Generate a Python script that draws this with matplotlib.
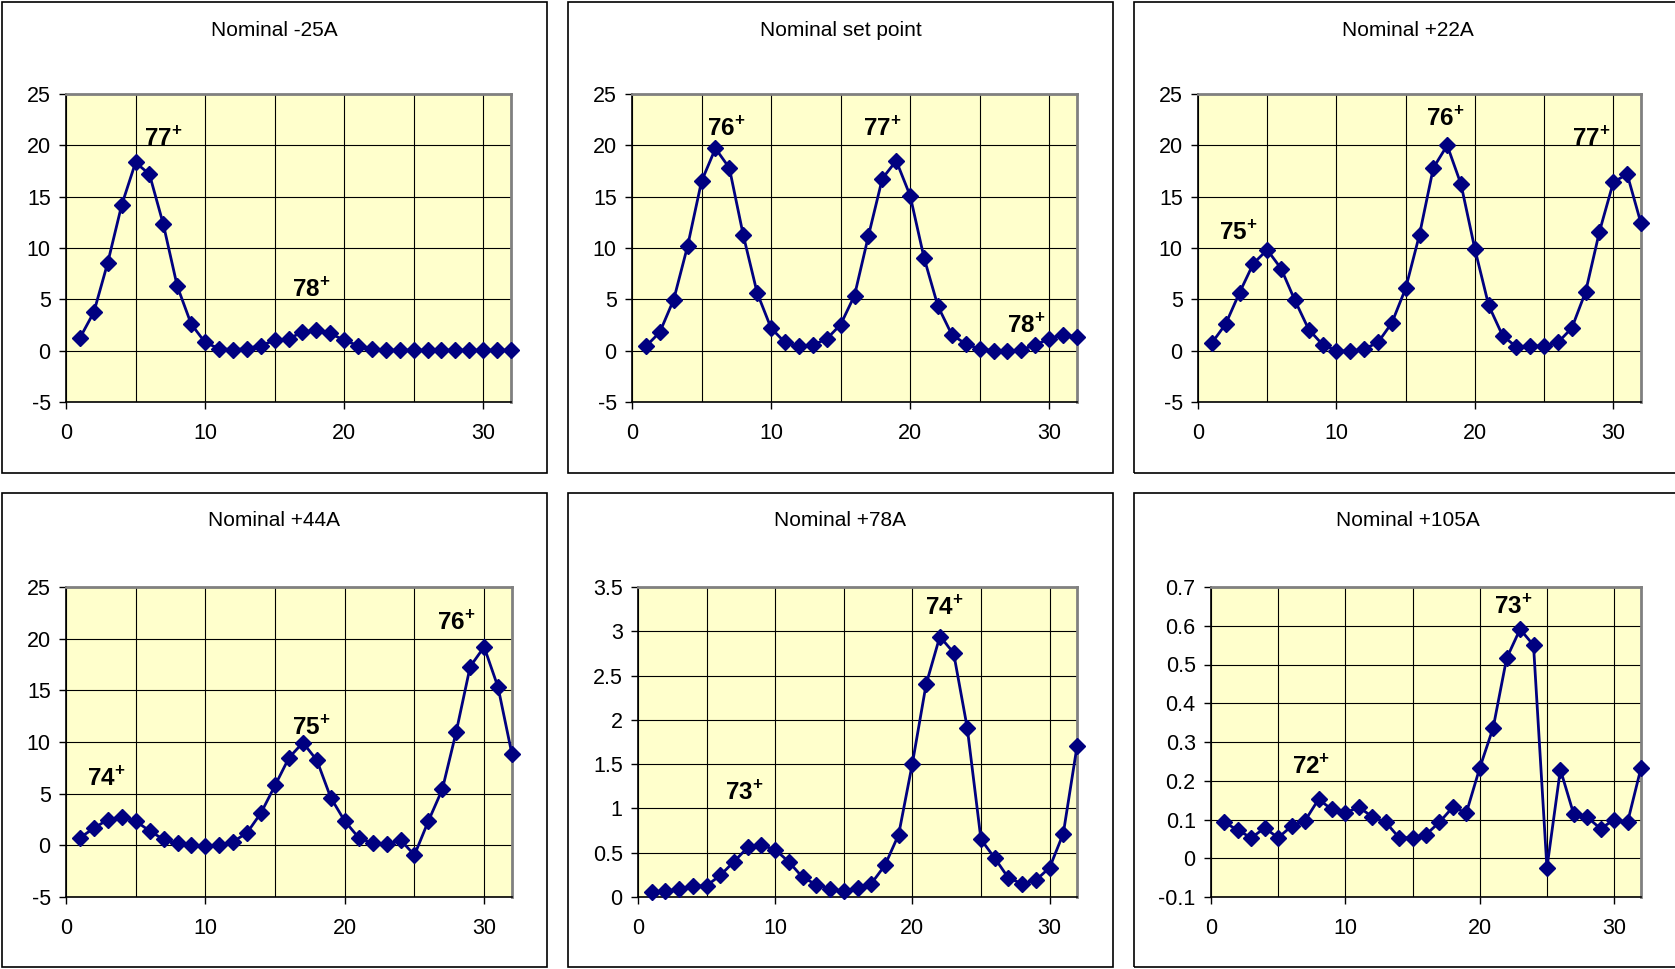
import numpy as np
import matplotlib
matplotlib.use("Agg")
import matplotlib.pyplot as plt
from matplotlib.patches import Rectangle

plt.rcParams['font.family'] = ['Liberation Sans', 'DejaVu Sans']
plt.rcParams['mathtext.fontset'] = 'custom'
plt.rcParams['mathtext.rm'] = 'Liberation Sans'
plt.rcParams['mathtext.bf'] = 'Liberation Sans:bold'
plt.rcParams['axes.unicode_minus'] = False

samples = np.arange(1, 33)

# one series per current setting
minus25 = [1.24, 3.74, 8.56, 14.16, 18.33, 17.19, 12.3, 6.28, 2.6, 0.81,
           0.2, 0.1, 0.2, 0.5, 1.0, 1.17, 1.8, 2.0, 1.7, 1.0,
           0.5, 0.2, 0.05, 0.05, 0.05, 0.05, 0.05, 0.05, 0.05, 0.05,
           0.05, 0.05]
setpoint = [0.42, 1.8, 4.98, 10.2, 16.5, 19.7, 17.8, 11.26, 5.63, 2.2,
            0.8, 0.42, 0.55, 1.14, 2.54, 5.37, 11.17, 16.76, 18.5, 15.1,
            9.05, 4.33, 1.56, 0.65, 0.16, 0.0, -0.06, 0.1, 0.55, 1.17,
            1.56, 1.33]
plus22 = [0.75, 2.6, 5.65, 8.49, 9.82, 8.0, 4.9, 2.06, 0.59, 0.0,
          -0.05, 0.16, 0.8, 2.7, 6.07, 11.3, 17.8, 20.0, 16.2, 9.9,
          4.4, 1.47, 0.36, 0.49, 0.42, 0.8, 2.2, 5.74, 11.6, 16.4,
          17.2, 12.4]
plus44 = [0.74, 1.65, 2.5, 2.74, 2.35, 1.39, 0.58, 0.19, 0.0, -0.06,
          0.03, 0.35, 1.23, 3.16, 5.8, 8.48, 9.94, 8.23, 4.6, 2.35,
          0.74, 0.19, 0.1, 0.52, -0.94, 2.35, 5.42, 11.0, 17.3, 19.2,
          15.3, 8.8]
plus78 = [0.053, 0.064, 0.09, 0.12, 0.128, 0.245, 0.40, 0.56, 0.584, 0.535,
          0.396, 0.222, 0.14, 0.09, 0.064, 0.10, 0.15, 0.358, 0.705, 1.507,
          2.40, 2.94, 2.76, 1.91, 0.65, 0.44, 0.215, 0.15, 0.19, 0.33,
          0.716, 1.70]
plus105 = [0.093, 0.072, 0.053, 0.078, 0.053, 0.083, 0.097, 0.152, 0.126, 0.117,
           0.132, 0.107, 0.093, 0.053, 0.053, 0.061, 0.093, 0.132, 0.117, 0.233,
           0.337, 0.516, 0.591, 0.55, -0.025, 0.229, 0.113, 0.106, 0.076, 0.10,
           0.093, 0.233]

titles = ["Nominal -25A", "Nominal set point", "Nominal +22A",
          "Nominal +44A", "Nominal +78A", "Nominal +105A"]
series = [minus25, setpoint, plus22, plus44, plus78, plus105]

# y limits and tick step per panel
ylims = [(-5, 25, 5), (-5, 25, 5), (-5, 25, 5), (-5, 25, 5), (0, 3.5, 0.5), (-0.1, 0.7, 0.1)]

# charge state labels: (text, x, y)
peaks = [
    [("77", 5.58, 19.95), ("78", 16.23, 5.2)],
    [("76", 5.42, 20.9), ("77", 16.62, 20.9), ("78", 26.95, 1.73)],
    [("75", 1.53, 10.8), ("76", 16.47, 21.87), ("77", 27.03, 20.0)],
    [("74", 1.54, 5.8), ("75", 16.18, 10.68), ("76", 26.65, 20.9)],
    [("73", 6.33, 1.10), ("74", 20.89, 3.19)],
    [("72", 6.04, 0.219), ("73", 21.05, 0.63)],
]

W, H = 1675, 969
fig = plt.figure(figsize=(W / 100, H / 100), dpi=100)

# plot areas in pixels: left, right, top, bottom
areas = [(66, 511, 94, 402), (632, 1077, 94, 402), (1198, 1641, 94, 402),
         (66, 512, 587, 897), (638, 1077, 587, 897), (1211, 1641, 587, 897)]
# panel frames in pixels: left, right, top, bottom
frames = [(2, 547, 2, 473), (568, 1113, 2, 473), (1134, 1685, 2, 473),
          (2, 547, 493, 967), (568, 1113, 493, 967), (1134, 1685, 493, 967)]

navy = '#000080'

for i in range(6):
    fl, fr, ft, fb = frames[i]
    fig.patches.append(Rectangle((fl / W, 1 - fb / H), (fr - fl) / W, (fb - ft) / H,
                                 transform=fig.transFigure, fill=False,
                                 edgecolor='black', lw=1.2))
    fig.text((fl + min(fr, W)) / 2 / W + (0.002 if i % 3 == 2 else 0),
             1 - (ft + 28) / H, titles[i], ha='center', va='center', fontsize=15)

    l, r, t, b = areas[i]
    ax = fig.add_axes([l / W, 1 - b / H, (r - l) / W, (b - t) / H])
    ax.set_facecolor('#FFFFCC')
    ymin, ymax, ystep = ylims[i]
    ax.set_xlim(0, 32)
    ax.set_ylim(ymin, ymax)
    ax.set_xticks([0, 10, 20, 30])
    ax.set_xticks([5, 15, 25], minor=True)
    yt = np.arange(ymin, ymax + ystep / 2, ystep)
    ax.set_yticks(yt)
    ax.set_yticklabels(['%g' % round(v, 2) for v in yt])
    ax.grid(True, which='both', color='black', lw=0.8)
    ax.set_axisbelow(True)
    ax.tick_params(axis='both', which='major', direction='out', length=5,
                   width=1, labelsize=15.5, color='black')
    ax.tick_params(axis='x', which='major', pad=10)
    ax.tick_params(axis='y', which='major', pad=6)
    ax.tick_params(axis='x', which='minor', length=0)
    for side in ['top', 'right']:
        ax.spines[side].set_color('#808080')
        ax.spines[side].set_linewidth(2)
    for side in ['left', 'bottom']:
        ax.spines[side].set_color('black')
        ax.spines[side].set_linewidth(1.2)

    ax.plot(samples, series[i], '-', color=navy, lw=2, marker='D', ms=8,
            mfc=navy, mec=navy, clip_on=False, zorder=5)

    for lab, px, py in peaks[i]:
        ax.text(px, py, r'$\mathbf{%s}^{\mathbf{+}}$' % lab, fontsize=17.5,
                ha='left', va='baseline', zorder=6)

fig.savefig('out.png', dpi=100)
